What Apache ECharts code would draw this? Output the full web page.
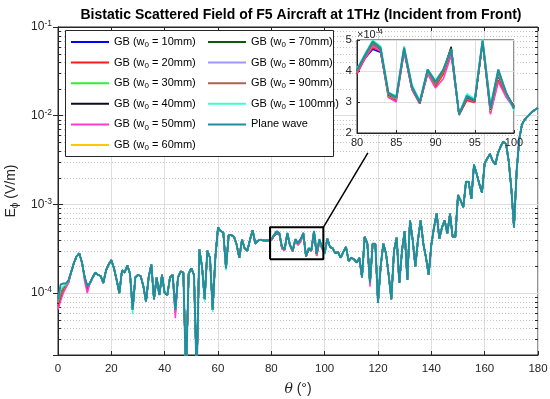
<!DOCTYPE html>
<html><head><meta charset="utf-8">
<script src="https://cdn.jsdelivr.net/npm/echarts@6/dist/echarts.min.js"></script>
<style>html,body{margin:0;padding:0;background:#fff}#c{width:550px;height:399px}</style>
</head><body><div id="c"></div>
<script>
// ---------------- data ----------------
// Plane-wave field E_phi (V/m), one value per degree, theta = 0..180
const planeWave = [
 8.5e-5,1.25e-4,1.28e-4,1.28e-4,1.4e-4,1.75e-4,2.2e-4,2.6e-4,2.8e-4,2.2e-4,
 1.5e-4,1.2e-4,1.3e-4,1.5e-4,1.7e-4,1.6e-4,1.55e-4,1.3e-4,1.8e-4,2.1e-4,
 2.35e-4,1.9e-4,1.4e-4,1.0e-4,1.8e-4,1.7e-4,2.05e-4,1.65e-4,6.5e-5,1.5e-4,
 1.6e-4,1.55e-4,1.2e-4,8.0e-5,1.5e-4,2.1e-4,8.5e-5,1.5e-4,9.5e-5,1.6e-4,
 1.0e-4,9.5e-5,1.5e-4,1.6e-4,6.5e-5,1.5e-4,1.75e-4,1.7e-4,1.2e-5,1.65e-4,
 1.9e-4,1.6e-4,1.2e-5,3.1e-4,2.0e-4,8.5e-5,3.0e-4,2.5e-4,6.5e-5,2.5e-4,
 5.5e-4,5.0e-4,4.8e-4,1.9e-4,4.5e-4,4.5e-4,4.3e-4,3.5e-4,2.5e-4,4.0e-4,
 3.2e-4,3.0e-4,4.0e-4,5.1e-4,3.6e-4,3.9e-4,4.0e-4,3.9e-4,3.9e-4,3.9e-4,
 4.03e-4,4.5e-4,4.95e-4,4.75e-4,3.3e-4,3.15e-4,4.75e-4,3.5e-4,3.0e-4,4.05e-4,
 3.65e-4,4.05e-4,4.7e-4,2.6e-4,3.2e-4,3.05e-4,4.98e-4,2.8e-4,4.05e-4,3.3e-4,
 2.78e-4,4.1e-4,3.3e-4,3.2e-4,2.8e-4,2.9e-4,2.5e-4,2.9e-4,3.3e-4,2.3e-4,
 2.5e-4,2.4e-4,2.2e-4,2.5e-4,1.5e-4,4.3e-4,3.6e-4,1.3e-4,3.6e-4,3.6e-4,
 7.8e-5,2.0e-4,3.6e-4,2.8e-4,1.6e-4,8.5e-5,3.0e-4,4.2e-4,1.3e-4,3.0e-4,
 5.0e-4,1.4e-4,6.6e-4,4.0e-4,2.0e-4,4.0e-4,6.6e-4,3.6e-4,2.5e-4,1.6e-4,
 3.5e-4,5.5e-4,7.9e-4,4.1e-4,5.5e-4,6.6e-4,4.7e-4,7.8e-4,4.3e-4,4.3e-4,
 1.27e-3,1.1e-3,9.3e-4,1.8e-3,1.8e-3,1.15e-3,2.8e-3,2.2e-3,1.7e-3,1.35e-3,
 2.9e-3,3.3e-3,3.7e-3,3.1e-3,2.8e-3,3.8e-3,4.5e-3,5.1e-3,4.8e-3,3.1e-3,
 1.5e-3,5.5e-4,2.4e-3,5.5e-3,8.0e-3,9.0e-3,9.7e-3,1.05e-2,1.12e-2,1.17e-2,1.22e-2
];

// Gaussian-beam values inside the zoomed window theta = 80..100 (units of 1e-4 V/m)
const gb10Zoom  = [3.95,4.4,4.7,4.6,3.25,3.1,4.65,3.42,3.0,3.95,3.55,3.95,4.6,2.6,3.1,3.02,4.92,2.7,3.85,3.25,2.85];
const gb20Zoom  = [3.9,4.4,4.75,4.65,3.15,3.05,4.65,3.4,2.95,3.92,3.5,3.9,4.6,2.58,3.05,2.98,4.92,2.65,3.7,3.2,2.88];
const gb30Zoom  = [4.02,4.5,4.9,4.75,3.25,3.15,4.75,3.5,3.0,4.05,3.6,4.05,4.72,2.6,3.2,3.05,5.0,2.85,4.0,3.3,2.8];
const gb40Zoom  = [4.0,4.45,4.85,4.72,3.2,3.1,4.7,3.45,2.95,4.0,3.55,4.0,4.78,2.58,3.12,3.02,4.95,2.75,3.9,3.25,2.85];
const gb50Zoom  = [3.95,4.4,4.8,4.65,3.15,3.0,4.6,3.4,2.95,3.9,3.45,3.75,4.5,2.6,3.1,3.0,4.9,2.6,3.65,3.15,2.8];
const gb60Zoom  = [4.0,4.47,4.87,4.7,3.2,3.1,4.7,3.45,2.98,3.98,3.55,3.98,4.7,2.6,3.15,3.03,4.92,2.72,3.9,3.25,2.85];
const gb70Zoom  = [4.0,4.48,4.88,4.7,3.22,3.12,4.7,3.45,2.98,4.0,3.58,4.02,4.75,2.6,3.15,3.03,4.95,2.75,3.95,3.28,2.85];
const gb80Zoom  = [4.0,4.5,4.9,4.72,3.25,3.12,4.72,3.45,3.0,4.0,3.6,4.02,4.68,2.6,3.18,3.05,4.95,2.78,3.98,3.28,2.8];
const gb90Zoom  = [4.0,4.5,4.9,4.72,3.25,3.15,4.72,3.48,3.0,4.02,3.62,4.0,4.7,2.6,3.18,3.05,4.95,2.8,4.0,3.3,2.82];
const gb100Zoom = [4.08,4.55,5.0,4.8,3.3,3.2,4.8,3.55,3.05,4.05,3.7,4.05,4.7,2.62,3.27,3.1,5.05,2.9,4.05,3.3,2.72];

// Gaussian-beam values that differ visibly from the plane wave elsewhere (theta: value)
const gb10Diff  = {0:7.5e-5,1:9e-5,2:1.05e-4,3:1.2e-4,4:1.35e-4,11:1.1e-4};
const gb20Diff  = {0:7e-5,1:8.8e-5,2:1.03e-4,3:1.18e-4,4:1.33e-4,11:1.08e-4,44:6e-5};
const gb30Diff  = {0:7.8e-5,1:9.5e-5,2:1.1e-4,3:1.22e-4,4:1.36e-4};
const gb40Diff  = {0:7.6e-5,1:9.2e-5,2:1.08e-4,3:1.2e-4};
const gb50Diff  = {0:6.5e-5,1:8.2e-5,2:1.0e-4,3:1.15e-4,4:1.3e-4,10:1.35e-4,11:1.0e-4,44:5.2e-5,117:1.18e-4};
const gb60Diff  = {0:7.8e-5,1:9.5e-5,2:1.1e-4,3:1.22e-4};
const gb70Diff  = {0:8e-5,1:9.8e-5,2:1.12e-4,3:1.24e-4};
const gb80Diff  = {0:8e-5,1:1.0e-4,2:1.15e-4,3:1.25e-4};
const gb90Diff  = {0:8.2e-5,1:1.02e-4,2:1.15e-4,3:1.25e-4};
const gb100Diff = {0:8.5e-5,1:1.1e-4,2:1.2e-4,3:1.25e-4,28:5.8e-5,55:8e-5,58:6.1e-5,63:1.8e-4};

const seriesNames = ['GB (w0 = 10mm)','GB (w0 = 20mm)','GB (w0 = 30mm)','GB (w0 = 40mm)','GB (w0 = 50mm)',
  'GB (w0 = 60mm)','GB (w0 = 70mm)','GB (w0 = 80mm)','GB (w0 = 90mm)','GB (w0 = 100mm)','Plane wave'];
const seriesColors = ['#0000ff','#ff1a1a','#33ee33','#0a0a24','#ff3ccc','#ffc800','#0a5c0a','#9a9aff','#b0604f','#3dffcc','#1f8e9f'];
const zoomSets = [gb10Zoom,gb20Zoom,gb30Zoom,gb40Zoom,gb50Zoom,gb60Zoom,gb70Zoom,gb80Zoom,gb90Zoom,gb100Zoom];
const diffSets = [gb10Diff,gb20Diff,gb30Diff,gb40Diff,gb50Diff,gb60Diff,gb70Diff,gb80Diff,gb90Diff,gb100Diff];

const zoomWindow = [80, 100];           // theta range of inset
const zoomBoxTheta = [79.5, 99.5];      // rectangle drawn on main plot
const zoomBoxField = [2.4e-4, 5.5e-4];
const zoomLink = [[99.5, 5.5e-4], [116.2, 3.8e-3]];
const yMinorTicks = [3e-5,4e-5,5e-5,6e-5,7e-5,8e-5,9e-5,
  2e-4,3e-4,4e-4,5e-4,6e-4,7e-4,8e-4,9e-4,
  2e-3,3e-3,4e-3,5e-3,6e-3,7e-3,8e-3,9e-3,
  2e-2,3e-2,4e-2,5e-2,6e-2,7e-2,8e-2,9e-2];

// ---------------- build ----------------
function gbValues(i){
  const v = planeWave.slice();
  const d = diffSets[i];
  for (const k in d) v[+k] = d[k];
  zoomSets[i].forEach((z, j) => { v[zoomWindow[0] + j] = z * 1e-4; });
  return v;
}
const allValues = seriesNames.map((n, i) => i < 10 ? gbValues(i) : planeWave);

const AX = '#262626';
const FONT = 'Liberation Sans, Arial, Helvetica, sans-serif';
const series = [];
allValues.forEach((vals, i) => {
  const last = i === 10;
  series.push({
    name: seriesNames[i], type: 'line', xAxisIndex: 0, yAxisIndex: 0,
    data: vals.map((v, t) => [t, v]), symbol: 'none', z: 3 + i * 0.01,
    lineStyle: { color: seriesColors[i], width: last ? 2 : 1.5 }, itemStyle: { color: seriesColors[i] },
    clip: true
  });
  series.push({
    name: seriesNames[i], type: 'line', xAxisIndex: 2, yAxisIndex: 2,
    data: vals.slice(zoomWindow[0], zoomWindow[1] + 1).map((v, j) => [zoomWindow[0] + j, v]),
    symbol: 'none', z: 20 + i * 0.01,
    lineStyle: { color: seriesColors[i], width: last ? 2 : 1.5 }, itemStyle: { color: seriesColors[i] }
  });
});
// zoom rectangle + connector
series.push({
  type: 'line', xAxisIndex: 0, yAxisIndex: 0, symbol: 'none', z: 6, silent: true,
  data: [[zoomBoxTheta[0], zoomBoxField[0]], [zoomBoxTheta[1], zoomBoxField[0]], [zoomBoxTheta[1], zoomBoxField[1]],
         [zoomBoxTheta[0], zoomBoxField[1]], [zoomBoxTheta[0], zoomBoxField[0]]],
  lineStyle: { color: '#000', width: 2 }
});
series.push({
  type: 'line', xAxisIndex: 0, yAxisIndex: 0, symbol: 'none', z: 6, silent: true, clip: false,
  data: zoomLink, lineStyle: { color: '#000', width: 1.5 }
});
// minor log grid + minor ticks
series.push({
  type: 'custom', xAxisIndex: 0, yAxisIndex: 0, z: 1, silent: true,
  data: yMinorTicks.map(v => [0, v]),
  renderItem: function (params, api) {
    const cs = params.coordSys;
    const y = Math.round(api.coord([0, api.value(1)])[1]) + 0.5;
    return { type: 'group', children: [
      { type: 'line', shape: { x1: cs.x, y1: y, x2: cs.x + cs.width, y2: y }, style: { stroke: '#c4c4c4', lineWidth: 1, lineDash: [1, 2] } },
      { type: 'line', shape: { x1: cs.x, y1: y, x2: cs.x + 3, y2: y }, style: { stroke: AX, lineWidth: 1 } },
      { type: 'line', shape: { x1: cs.x + cs.width - 3, y1: y, x2: cs.x + cs.width, y2: y }, style: { stroke: AX, lineWidth: 1 } }
    ] };
  }
});

const powLabel = v => {
  const e = Math.round(Math.log10(v));
  if (Math.abs(v / Math.pow(10, e) - 1) > 1e-6) return '';
  return '10{sup|' + e + '}';
};
const labelStyle = { color: AX, fontSize: 11.5, fontFamily: FONT };
const legendRich = { sub: { fontSize: 8, verticalAlign: 'bottom', lineHeight: 14, fontFamily: FONT, color: '#000' } };
const legendFmt = n => n.replace('w0', 'w{sub|0}');
const legendBase = {
  orient: 'vertical', itemWidth: 38, itemHeight: 12, itemGap: 6.6, padding: 0, z: 10,
  itemStyle: { opacity: 0 }, lineStyle: { width: 2 },
  textStyle: { color: '#000', fontSize: 11, fontFamily: FONT, lineHeight: 14, rich: legendRich },
  formatter: legendFmt, selectedMode: false
};

const option = {
  animation: false,
  backgroundColor: '#fff',
  title: { text: 'Bistatic Scattered Field of F5 Aircraft at 1THz (Incident from Front)', left: 296, top: 3, textAlign: 'center',
    textStyle: { fontSize: 14, fontWeight: 'bold', color: '#000', fontFamily: FONT } },
  grid: [
    { left: 58, top: 27, width: 480, height: 328, show: true, borderColor: AX, borderWidth: 1, backgroundColor: '#fff',
      containLabel: false, outerBoundsMode: 'none' },
    { left: 357, top: 40, width: 157, height: 93, show: true, borderColor: AX, borderWidth: 1, backgroundColor: '#fff', z: 12,
      containLabel: false, outerBoundsMode: 'none' }
  ],
  legend: [
    Object.assign({}, legendBase, { left: 70, top: 35, data: seriesNames.slice(0, 6) }),
    Object.assign({}, legendBase, { left: 207, top: 35, data: seriesNames.slice(6) })
  ],
  xAxis: [
    { type: 'value', gridIndex: 0, min: 0, max: 180, interval: 20, position: 'bottom',
      name: '{it|θ} (°)', nameLocation: 'middle', nameGap: 27,
      nameTextStyle: { color: AX, fontSize: 14, fontFamily: FONT, rich: { it: { fontStyle: 'italic', fontSize: 14, fontFamily: 'DejaVu Serif, serif', color: AX } } },
      axisLine: { lineStyle: { color: AX } }, axisTick: { inside: true, length: 4, lineStyle: { color: AX } },
      axisLabel: Object.assign({ margin: 8 }, labelStyle),
      splitLine: { show: true, lineStyle: { color: '#dedede', width: 1 } } },
    { type: 'value', gridIndex: 0, min: 0, max: 180, interval: 20, position: 'top',
      axisLine: { lineStyle: { color: AX } }, axisTick: { inside: true, length: 4, lineStyle: { color: AX } },
      axisLabel: { show: false }, splitLine: { show: false } },
    { type: 'value', gridIndex: 1, min: 80, max: 100, interval: 5, z: 13,
      axisLine: { lineStyle: { color: AX } }, axisTick: { inside: true, length: 3, lineStyle: { color: AX } },
      axisLabel: Object.assign({ margin: 4 }, labelStyle, { fontSize: 11 }),
      splitLine: { show: true, lineStyle: { color: '#dedede' } } }
  ],
  yAxis: [
    { type: 'log', logBase: 10, gridIndex: 0, min: 2e-5, max: 0.1, position: 'left',
      name: 'E{sub|ϕ} (V/m)', nameLocation: 'middle', nameGap: 34, nameRotate: 90,
      nameTextStyle: { color: AX, fontSize: 14, fontFamily: FONT, lineHeight: 18, rich: { sub: { fontSize: 10, verticalAlign: 'bottom', lineHeight: 18, color: AX, fontFamily: FONT } } },
      axisLine: { lineStyle: { color: AX } }, axisTick: { inside: true, length: 5, lineStyle: { color: AX } },
      axisLabel: Object.assign({ margin: 6, formatter: powLabel, lineHeight: 15,
        rich: { sup: { fontSize: 8.5, verticalAlign: 'top', lineHeight: 15, color: AX, fontFamily: FONT } } }, labelStyle, { fontSize: 12 }),
      splitLine: { show: true, lineStyle: { color: '#dedede' } }, minorTick: { show: false } },
    { type: 'log', logBase: 10, gridIndex: 0, min: 2e-5, max: 0.1, position: 'right',
      axisLine: { lineStyle: { color: AX } }, axisTick: { inside: true, length: 5, lineStyle: { color: AX } },
      axisLabel: { show: false }, splitLine: { show: false } },
    { type: 'value', gridIndex: 1, min: 2e-4, max: 5e-4, interval: 1e-4, z: 13,
      axisLine: { lineStyle: { color: AX } }, axisTick: { inside: true, length: 3, lineStyle: { color: AX } },
      axisLabel: Object.assign({ margin: 5, formatter: v => String(Math.round(v * 1e4)) }, labelStyle, { fontSize: 11.5 }),
      splitLine: { show: true, lineStyle: { color: '#dedede' } } }
  ],
  graphic: [
    { type: 'rect', z: 8, shape: { x: 65.5, y: 30.5, width: 268, height: 126 }, style: { fill: '#fff', stroke: AX, lineWidth: 1 } },
    { type: 'text', z: 14, x: 357, y: 35, style: { text: '×10{sup|-4}', fill: AX, font: '11px ' + FONT, verticalAlign: 'middle',
      rich: { sup: { fontSize: 8, verticalAlign: 'top', lineHeight: 14, fill: AX } } } }
  ],
  series: series
};
const chart = echarts.init(document.getElementById('c'), null, { renderer: 'canvas' });
chart.setOption(option);
</script></body></html>
